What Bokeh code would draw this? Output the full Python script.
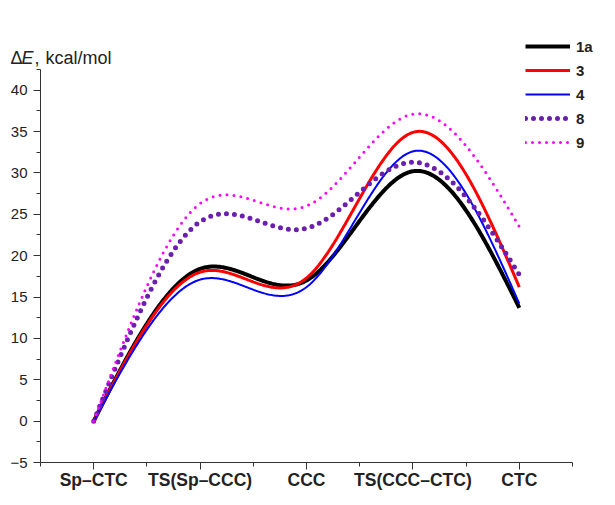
import numpy as np
from bokeh.plotting import figure
from bokeh.models import Range1d, FixedTicker, Legend, LegendItem, Label
from bokeh.embed import file_html
from bokeh.resources import INLINE

# ---- data ----
categories = ["Sp\u2013CTC", "TS(Sp\u2013CCC)", "CCC", "TS(CCC\u2013CTC)", "CTC"]
series_names = ["1a", "3", "4", "8", "9"]
e_1a = [0.0, 18.4, 17.0, 30.2, 13.7]
e_3 = [0.0, 18.0, 17.3, 34.9, 16.2]
e_4 = [0.0, 17.1, 16.2, 32.6, 14.2]
e_8 = [0.0, 24.1, 23.3, 31.3, 17.7]
e_9 = [0.0, 26.3, 26.0, 37.1, 23.5]
y_ticks = [-5, 0, 5, 10, 15, 20, 25, 30, 35, 40]

# ---- styles ----
styles = {
    "1a": dict(color="#000000", line_width=4),
    "3": dict(color="#ff0000", line_width=3),
    "4": dict(color="#0000ff", line_width=2),
    "8": dict(color="#6a1fae", line_width=5, line_dash="0 8", line_cap="round"),
    "9": dict(color="#ff00ff", line_width=3, line_dash="0 7", line_cap="round"),
}


def natural_spline(xs, ys, xq):
    xs = np.asarray(xs, float)
    ys = np.asarray(ys, float)
    n = len(xs)
    h = np.diff(xs)
    A = np.zeros((n, n))
    r = np.zeros(n)
    A[0, 0] = 1
    A[-1, -1] = 1
    for i in range(1, n - 1):
        A[i, i - 1] = h[i - 1]
        A[i, i] = 2 * (h[i - 1] + h[i])
        A[i, i + 1] = h[i]
        r[i] = 6 * ((ys[i + 1] - ys[i]) / h[i] - (ys[i] - ys[i - 1]) / h[i - 1])
    M = np.linalg.solve(A, r)
    out = np.empty_like(xq)
    for k, x in enumerate(xq):
        i = min(max(np.searchsorted(xs, x) - 1, 0), n - 2)
        t0 = xs[i + 1] - x
        t1 = x - xs[i]
        hi = h[i]
        out[k] = (M[i] * t0 ** 3 / (6 * hi) + M[i + 1] * t1 ** 3 / (6 * hi)
                  + (ys[i] / hi - M[i] * hi / 6) * t0
                  + (ys[i + 1] / hi - M[i + 1] * hi / 6) * t1)
    return out


pos = np.arange(len(categories), dtype=float)
xq = np.linspace(pos[0], pos[-1], 400)

# frame covers the whole canvas; axes are pinned at x=-0.5 and y=-5
p = figure(width=610, height=500, output_backend="svg", toolbar_location=None,
           x_range=Range1d(-0.8759, 4.8195), y_range=Range1d(-9.109, 50.354),
           min_border_left=0, min_border_right=4, min_border_top=4,
           min_border_bottom=4)
p.outline_line_color = None
p.xgrid.grid_line_color = None
p.ygrid.grid_line_color = None
p.background_fill_color = "white"

items = []
for name, vals in zip(series_names, [e_1a, e_3, e_4, e_8, e_9]):
    yq = natural_spline(pos, vals, xq)
    r = p.line(xq, yq, **styles[name])
    items.append(LegendItem(label=name, renderers=[r]))

axc = "#333333"
# x axis
p.xaxis.fixed_location = -5
p.xaxis.ticker = FixedTicker(ticks=list(pos), minor_ticks=[-0.5, 0.5, 1.5, 2.5, 3.5, 4.5])
p.xaxis.major_label_overrides = {i: c for i, c in enumerate(categories)}
p.xaxis.bounds = (-0.5, 4.5)
p.xaxis.major_label_text_font = "Liberation Sans"
p.xaxis.major_label_text_font_style = "bold"
p.xaxis.major_label_text_font_size = "17.5px"
p.xaxis.major_label_text_color = "#222222"
p.xaxis.major_label_standoff = 0
p.xaxis.major_tick_out = 7
p.xaxis.major_tick_in = 0
p.xaxis.minor_tick_out = 4
p.xaxis.minor_tick_in = 0
p.xaxis.axis_line_color = axc
p.xaxis.major_tick_line_color = axc
p.xaxis.minor_tick_line_color = axc

# y axis
p.yaxis.fixed_location = -0.5
p.yaxis.ticker = FixedTicker(ticks=y_ticks, minor_ticks=[t + 2.5 for t in y_ticks])
p.yaxis.major_label_overrides = {-5: "\u22125"}
p.yaxis.bounds = (-5, 42.5)
p.yaxis.major_label_text_font = "Liberation Sans"
p.yaxis.major_label_text_font_size = "15px"
p.yaxis.major_label_text_color = "#222222"
p.yaxis.major_label_standoff = 6
p.yaxis.major_tick_out = 7
p.yaxis.major_tick_in = 0
p.yaxis.minor_tick_out = 4
p.yaxis.minor_tick_in = 0
p.yaxis.axis_line_color = axc
p.yaxis.major_tick_line_color = axc
p.yaxis.minor_tick_line_color = axc

# axis title (screen units from the frame's bottom-left corner)
fnt = "Liberation Sans"
ty = 439
for txt, tx, st in [("\u0394", 10, "normal"), ("E", 21, "italic"),
                    (",", 34, "normal"), ("kcal/mol", 45, "normal")]:
    p.add_layout(Label(x=tx, y=ty, x_units="screen", y_units="screen", text=txt,
                       text_font=fnt, text_font_size="18px", text_font_style=st,
                       text_color="#222222", text_baseline="alphabetic"))

legend = Legend(items=items, location=(525, 344))
legend.padding = 0
legend.margin = 0
legend.spacing = 4
legend.glyph_width = 45
legend.glyph_height = 20
legend.label_height = 20
legend.label_standoff = 6
legend.label_text_font = fnt
legend.label_text_font_style = "bold"
legend.label_text_font_size = "15px"
legend.label_text_color = "#222222"
legend.border_line_alpha = 0
legend.background_fill_alpha = 0
p.add_layout(legend, "center")

open("out.html", "w").write(file_html(p, INLINE))
